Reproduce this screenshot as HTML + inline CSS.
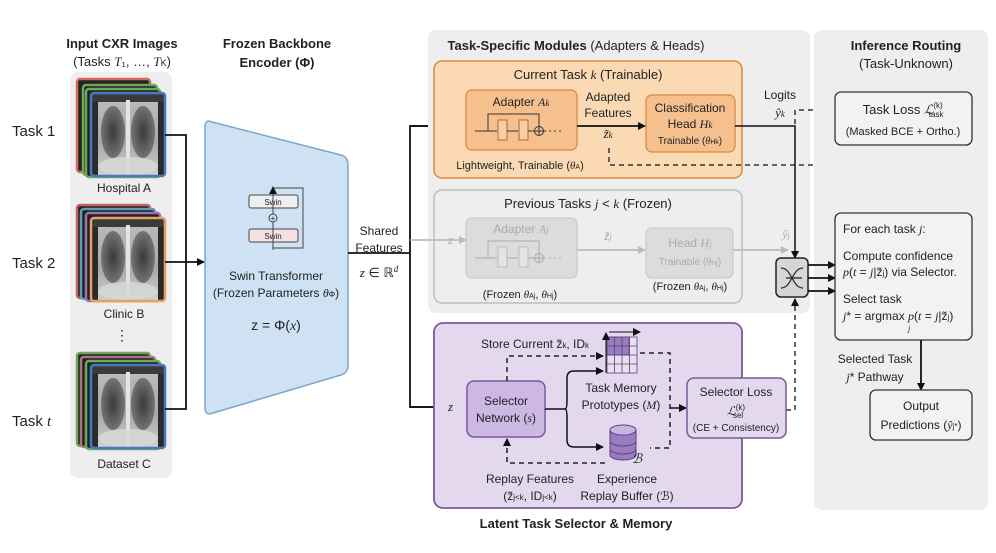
<!DOCTYPE html>
<html><head><meta charset="utf-8"><style>
html,body{margin:0;padding:0;background:#fff}
svg{display:block}
text{font-family:"Liberation Sans",sans-serif;fill:#222}
.s{font-family:"Liberation Serif",serif;font-style:italic}
.b{font-weight:bold}
</style></head><body>
<svg width="996" height="553" viewBox="0 0 996 553" xmlns="http://www.w3.org/2000/svg">
<defs>
<marker id="ah" markerWidth="8" markerHeight="8" refX="7" refY="4" orient="auto" markerUnits="userSpaceOnUse"><path d="M0,0 L8,4 L0,8 z" fill="#111"/></marker>
<marker id="ag" markerWidth="8" markerHeight="8" refX="7" refY="4" orient="auto" markerUnits="userSpaceOnUse"><path d="M0,0 L8,4 L0,8 z" fill="#bbb"/></marker>
<linearGradient id="body" x1="0" y1="0" x2="0" y2="1"><stop offset="0" stop-color="#bdbdbd"/><stop offset="0.6" stop-color="#a8a8a8"/><stop offset="1" stop-color="#d0d0d0"/></linearGradient>
<radialGradient id="lung" cx="50%" cy="50%" r="55%"><stop offset="0" stop-color="#3a3a3a"/><stop offset="1" stop-color="#7a7a7a"/></radialGradient>
<g id="xr">
<rect x="0" y="0" width="72" height="82" fill="url(#body)"/>
<rect x="0" y="0" width="6" height="82" fill="#2a2a2a"/>
<rect x="66" y="0" width="6" height="82" fill="#2a2a2a"/>
<rect x="0" y="0" width="72" height="8" fill="#3a3a3a"/>
<ellipse cx="21" cy="38" rx="12" ry="26" fill="url(#lung)"/>
<ellipse cx="51" cy="38" rx="12" ry="26" fill="url(#lung)"/>
<rect x="34" y="6" width="4" height="74" fill="#e4e4e4"/>
<ellipse cx="36" cy="72" rx="30" ry="9" fill="#d8d8d8" opacity="0.8"/>
</g>
</defs>

<rect x="70" y="72" width="102" height="406" rx="8" fill="#eeeeee"/>
<text x="122" y="48" text-anchor="middle" font-size="13" class="b">Input CXR Images</text>
<text x="122" y="66" text-anchor="middle" font-size="13">(Tasks <tspan class="s">T</tspan>₁, …, <tspan class="s">T</tspan><tspan font-size="9">K</tspan>)</text>
<text x="12" y="136" font-size="15">Task 1</text>
<text x="12" y="268" font-size="15">Task 2</text>
<text x="12" y="426" font-size="15">Task <tspan class="s">t</tspan></text>

<rect x="77" y="79" width="73" height="93" rx="3" fill="#222" stroke="#d76a5a" stroke-width="2.5"/>
<rect x="83" y="85" width="74" height="90" rx="3" fill="#222" stroke="#6aaa5a" stroke-width="2.5"/>
<rect x="86" y="89" width="74" height="88" rx="3" fill="#222" stroke="#6aaa5a" stroke-width="2.5"/>
<use href="#xr" x="92" y="94"/>
<rect x="91" y="93" width="74" height="83" rx="3" fill="none" stroke="#4a78c0" stroke-width="2.5"/>
<text x="124" y="192" text-anchor="middle" font-size="12">Hospital A</text>
<rect x="77" y="205" width="73" height="93" rx="3" fill="#222" stroke="#c76060" stroke-width="2.5"/>
<rect x="81" y="209" width="74" height="90" rx="3" fill="#222" stroke="#5aa0b0" stroke-width="2.5"/>
<rect x="86" y="213" width="74" height="88" rx="3" fill="#222" stroke="#9a70b8" stroke-width="2.5"/>
<use href="#xr" x="92" y="219"/>
<rect x="91" y="218" width="74" height="83" rx="3" fill="none" stroke="#e8a060" stroke-width="2.5"/>
<text x="124" y="318" text-anchor="middle" font-size="12">Clinic B</text>
<text x="122" y="340" text-anchor="middle" font-size="14">⋮</text>
<rect x="77" y="353" width="73" height="93" rx="3" fill="#222" stroke="#6aaa5a" stroke-width="2.5"/>
<rect x="81" y="357" width="74" height="90" rx="3" fill="#222" stroke="#b07080" stroke-width="2.5"/>
<rect x="86" y="361" width="74" height="88" rx="3" fill="#222" stroke="#6aaa5a" stroke-width="2.5"/>
<use href="#xr" x="92" y="366"/>
<rect x="91" y="365" width="74" height="83" rx="3" fill="none" stroke="#4a78c0" stroke-width="2.5"/>
<text x="124" y="468" text-anchor="middle" font-size="12">Dataset C</text>

<path d="M165,135 H186 V409 H165" fill="none" stroke="#111" stroke-width="1.8"/>
<line x1="165" y1="262" x2="204" y2="262" stroke="#111" stroke-width="1.8" marker-end="url(#ah)"/>

<text x="277" y="48" text-anchor="middle" font-size="13" class="b">Frozen Backbone</text>
<text x="277" y="67" text-anchor="middle" font-size="13" class="b">Encoder (Φ)</text>
<path d="M212,122 Q205,119 205,127 V408 Q205,416 213,413 L341,375 Q348,373 348,365 V165 Q348,157 341,155 Z" fill="#cfe2f3" stroke="#7aa6cf" stroke-width="1.5"/>
<rect x="249" y="195" width="49" height="13" rx="2" fill="#eeeeee" stroke="#444" stroke-width="1"/>
<text x="273" y="205" text-anchor="middle" font-size="8" fill="#444">Swin</text>
<rect x="249" y="229" width="49" height="13" rx="2" fill="#f6e0e4" stroke="#444" stroke-width="1"/>
<text x="273" y="239" text-anchor="middle" font-size="8" fill="#444">Swin</text>
<line x1="273" y1="250" x2="273" y2="187" stroke="#444" stroke-width="1" marker-end="url(#ah)"/>
<path d="M273,248 H303 V188 H273" fill="none" stroke="#444" stroke-width="1"/>
<circle cx="273" cy="218" r="4" fill="#cfe2f3" stroke="#444" stroke-width="1"/>
<text x="273" y="221" text-anchor="middle" font-size="8" fill="#444">+</text>
<text x="276" y="280" text-anchor="middle" font-size="12">Swin Transformer</text>
<text x="276" y="297" text-anchor="middle" font-size="12">(Frozen Parameters <tspan class="s">θ</tspan><tspan font-size="8">Φ</tspan>)</text>
<text x="276" y="330" text-anchor="middle" font-size="14" font-family="Liberation Serif">z = Φ(<tspan class="s">x</tspan>)</text>

<text x="379" y="235" text-anchor="middle" font-size="12">Shared</text>
<text x="379" y="252" text-anchor="middle" font-size="12">Features</text>
<text x="379" y="277" text-anchor="middle" font-size="13" font-family="Liberation Serif"><tspan class="s">z</tspan> ∈ ℝ<tspan font-size="9" dy="-5" class="s">d</tspan></text>
<line x1="348" y1="253" x2="410" y2="253" stroke="#111" stroke-width="1.8"/>
<path d="M466,126 H410 V407 H466" fill="none" stroke="#111" stroke-width="1.8"/>
<line x1="410" y1="126" x2="466" y2="126" stroke="#111" stroke-width="1.8" marker-end="url(#ah)"/>
<line x1="410" y1="407" x2="467" y2="407" stroke="#111" stroke-width="1.8" marker-end="url(#ah)"/>

<rect x="428" y="30" width="382" height="283" rx="8" fill="#eeeeee"/>
<text x="576" y="50" text-anchor="middle" font-size="13"><tspan class="b">Task-Specific Modules</tspan> (Adapters &amp; Heads)</text>
<rect x="434" y="61" width="308" height="117" rx="8" fill="#fbd9b5" stroke="#d9893a" stroke-width="1.5"/>
<text x="588" y="79" text-anchor="middle" font-size="13">Current Task <tspan class="s">k</tspan> (Trainable)</text>
<rect x="466" y="90" width="111" height="60" rx="6" fill="#f6c08e" stroke="#d9893a" stroke-width="1.2"/>
<text x="521" y="106" text-anchor="middle" font-size="12">Adapter <tspan class="s">A</tspan><tspan class="s" font-size="9">k</tspan></text>
<rect x="498" y="120" width="9" height="20" fill="#f8cfa5" stroke="#a8683a"/>
<rect x="519" y="120" width="9" height="20" fill="#f8cfa5" stroke="#a8683a"/>
<path d="M475,131 H497 M507,131 H518 M528,131 H535" stroke="#333" stroke-width="1" fill="none"/>
<path d="M488,131 V114 H539 V126" stroke="#333" stroke-width="1" fill="none"/>
<circle cx="539" cy="131" r="4.5" fill="none" stroke="#333"/><path d="M534.5,131 H543.5 M539,126.5 V135.5" stroke="#333"/>
<line x1="544" y1="131" x2="562" y2="131" stroke="#333" stroke-dasharray="2,3"/>
<text x="520" y="169" text-anchor="middle" font-size="11">Lightweight, Trainable (<tspan class="s">θ</tspan><tspan font-size="7">A</tspan>)</text>
<text x="608" y="101" text-anchor="middle" font-size="12">Adapted</text>
<text x="608" y="117" text-anchor="middle" font-size="12">Features</text>
<text x="608" y="138" text-anchor="middle" font-size="13" class="s">z̃<tspan font-size="9">k</tspan></text>
<line x1="577" y1="126" x2="645" y2="126" stroke="#111" stroke-width="1.8" marker-end="url(#ah)"/>
<rect x="646" y="95" width="89" height="57" rx="6" fill="#f6c08e" stroke="#d9893a" stroke-width="1.2"/>
<text x="690" y="112" text-anchor="middle" font-size="12">Classification</text>
<text x="690" y="128" text-anchor="middle" font-size="12">Head <tspan class="s">H</tspan><tspan class="s" font-size="9">k</tspan></text>
<text x="690" y="144" text-anchor="middle" font-size="10">Trainable (<tspan class="s">θ</tspan><tspan font-size="7">Hk</tspan>)</text>
<path d="M609,148 V165 H907 V152" fill="none" stroke="#333" stroke-width="1.5" stroke-dasharray="5,4"/>
<path d="M903,155 L907,147 L911,155 z" fill="#111"/>
<text x="780" y="99" text-anchor="middle" font-size="12">Logits</text>
<text x="780" y="117" text-anchor="middle" font-size="13" class="s">ŷ<tspan font-size="9">k</tspan></text>
<path d="M735,126 H795 V258" fill="none" stroke="#111" stroke-width="1.5" marker-end="url(#ah)"/>
<path d="M795,124 V110 H835" fill="none" stroke="#333" stroke-width="1.5" stroke-dasharray="5,4" marker-end="url(#ah)"/>

<rect x="434" y="190" width="308" height="113" rx="8" fill="#eeeeee" stroke="#bdbdbd" stroke-width="1.5"/>
<text x="588" y="208" text-anchor="middle" font-size="13">Previous Tasks <tspan class="s">j</tspan> &lt; <tspan class="s">k</tspan> (Frozen)</text>
<rect x="466" y="218" width="111" height="60" rx="6" fill="#dcdcdc" stroke="#c4c4c4"/>
<text x="521" y="233" text-anchor="middle" font-size="12" style="fill:#aaa">Adapter <tspan class="s">A</tspan><tspan class="s" font-size="9">j</tspan></text>
<rect x="498" y="247" width="9" height="20" fill="#e4e4e4" stroke="#bbb"/>
<rect x="519" y="247" width="9" height="20" fill="#e4e4e4" stroke="#bbb"/>
<path d="M475,258 H497 M507,258 H518 M528,258 H535 M488,258 V241 H539 V253" stroke="#aaa" fill="none"/>
<circle cx="539" cy="258" r="4.5" fill="none" stroke="#aaa"/><path d="M534.5,258 H543.5 M539,253.5 V262.5" stroke="#aaa"/>
<line x1="544" y1="258" x2="562" y2="258" stroke="#aaa" stroke-dasharray="2,3"/>
<text x="448" y="244" font-size="13" class="s" style="fill:#aaa">z</text>
<line x1="410" y1="240" x2="466" y2="240" stroke="#bbb" stroke-width="1.8" marker-end="url(#ag)"/>
<line x1="577" y1="250" x2="645" y2="250" stroke="#bbb" stroke-width="1.8" marker-end="url(#ag)"/>
<text x="608" y="240" text-anchor="middle" font-size="13" class="s" style="fill:#aaa">z̃<tspan font-size="9">j</tspan></text>
<rect x="646" y="228" width="87" height="50" rx="6" fill="#dcdcdc" stroke="#c4c4c4"/>
<text x="690" y="247" text-anchor="middle" font-size="12" style="fill:#aaa">Head <tspan class="s">H</tspan><tspan class="s" font-size="9">j</tspan></text>
<text x="690" y="265" text-anchor="middle" font-size="10" style="fill:#aaa">Trainable (<tspan class="s">θ</tspan><tspan font-size="7">Hj</tspan>)</text>
<text x="520" y="298" text-anchor="middle" font-size="11">(Frozen <tspan class="s">θ</tspan><tspan font-size="7">Aj</tspan>, <tspan class="s">θ</tspan><tspan font-size="7">Hj</tspan>)</text>
<text x="690" y="290" text-anchor="middle" font-size="11">(Frozen <tspan class="s">θ</tspan><tspan font-size="7">Aj</tspan>, <tspan class="s">θ</tspan><tspan font-size="7">Hj</tspan>)</text>
<text x="786" y="238" text-anchor="middle" font-size="12" class="s" style="fill:#aaa">ŷ<tspan font-size="8">j</tspan></text>
<line x1="733" y1="250" x2="788" y2="250" stroke="#bbb" stroke-width="1.8" marker-end="url(#ag)"/>

<rect x="814" y="30" width="174" height="480" rx="8" fill="#eeeeee"/>
<text x="906" y="50" text-anchor="middle" font-size="13" class="b">Inference Routing</text>
<text x="906" y="68" text-anchor="middle" font-size="13">(Task-Unknown)</text>
<rect x="835" y="92" width="137" height="53" rx="6" fill="#f2f2f2" stroke="#333" stroke-width="1.3"/>
<text x="903" y="114" text-anchor="middle" font-size="13">Task Loss <tspan class="s">ℒ</tspan><tspan font-size="8" dy="-6">(k)</tspan><tspan font-size="8" dx="-14" dy="9">task</tspan></text>
<text x="903" y="135" text-anchor="middle" font-size="11">(Masked BCE + Ortho.)</text>

<rect x="776" y="258" width="32" height="39" rx="5" fill="#d6d6d6" stroke="#222" stroke-width="1.5"/>
<path d="M781,268 C792,268 792,288 803,288 M781,288 C792,288 792,268 803,268 M786,278 H802" stroke="#222" fill="none" stroke-width="1.2"/>
<line x1="808" y1="265" x2="835" y2="265" stroke="#111" stroke-width="1.8" marker-end="url(#ah)"/>
<line x1="808" y1="278" x2="835" y2="278" stroke="#111" stroke-width="1.8" marker-end="url(#ah)"/>
<line x1="808" y1="291" x2="835" y2="291" stroke="#111" stroke-width="1.8" marker-end="url(#ah)"/>
<path d="M786,410 H795 V299" fill="none" stroke="#333" stroke-width="1.5" stroke-dasharray="5,4" marker-end="url(#ah)"/>

<rect x="835" y="213" width="137" height="127" rx="6" fill="#f2f2f2" stroke="#333" stroke-width="1.3"/>
<text x="843" y="233" font-size="12">For each task <tspan class="s">j</tspan>:</text>
<text x="843" y="260" font-size="12">Compute confidence</text>
<text x="843" y="276" font-size="12"><tspan class="s">p</tspan>(<tspan class="s">t</tspan> = <tspan class="s">j</tspan>|z̃<tspan font-size="8">j</tspan>) via Selector.</text>
<text x="843" y="303" font-size="12">Select task</text>
<text x="843" y="320" font-size="12"><tspan class="s">j</tspan>* = argmax <tspan class="s">p</tspan>(<tspan class="s">t</tspan> = <tspan class="s">j</tspan>|z̃<tspan font-size="8">j</tspan>)</text>
<text x="908" y="331" font-size="8" class="s">j</text>
<text x="875" y="363" text-anchor="middle" font-size="12">Selected Task</text>
<text x="875" y="381" text-anchor="middle" font-size="12"><tspan class="s">j</tspan>* Pathway</text>
<line x1="921" y1="340" x2="921" y2="390" stroke="#111" stroke-width="1.8" marker-end="url(#ah)"/>
<rect x="870" y="390" width="102" height="50" rx="6" fill="#f2f2f2" stroke="#333" stroke-width="1.3"/>
<text x="921" y="410" text-anchor="middle" font-size="12">Output</text>
<text x="921" y="429" text-anchor="middle" font-size="12">Predictions (<tspan class="s">ŷ</tspan><tspan font-size="8">j*</tspan>)</text>

<rect x="434" y="323" width="308" height="185" rx="9" fill="#e4d8ef" stroke="#7a5a9c" stroke-width="1.8"/>
<text x="576" y="528" text-anchor="middle" font-size="13" class="b">Latent Task Selector &amp; Memory</text>
<text x="448" y="411" font-size="13" class="s">z</text>
<rect x="467" y="381" width="78" height="56" rx="7" fill="#cdb8e3" stroke="#7a5a9c" stroke-width="1.5"/>
<text x="506" y="405" text-anchor="middle" font-size="12">Selector</text>
<text x="506" y="422" text-anchor="middle" font-size="12">Network (<tspan class="s">s</tspan>)</text>
<text x="535" y="348" text-anchor="middle" font-size="12">Store Current z̃<tspan font-size="8">k</tspan>, ID<tspan font-size="8">k</tspan></text>
<path d="M507,381 V356 H603" fill="none" stroke="#222" stroke-width="1.5" stroke-dasharray="5,4" marker-end="url(#ah)"/>
<path d="M545,409 H565 Q567,409 567,400 V378 Q567,371 574,371 H603" fill="none" stroke="#111" stroke-width="1.5" marker-end="url(#ah)"/>
<path d="M565,409 Q567,409 567,418 V440 Q567,447 574,447 H603" fill="none" stroke="#111" stroke-width="1.5" marker-end="url(#ah)"/>
<g stroke="#5a3f7a" stroke-width="0.8">
<rect x="607" y="337" width="30" height="36" fill="#e8e0f0"/>
<rect x="607" y="337" width="22" height="18" fill="#9a7cc0"/>
<path d="M614.5,337 V373 M622,337 V373 M629.5,337 V373 M607,346 H637 M607,355 H637 M607,364 H637" fill="none"/>
</g>
<line x1="606" y1="373" x2="606" y2="333" stroke="#111" stroke-width="1" marker-end="url(#ah)"/>
<line x1="609" y1="332" x2="640" y2="332" stroke="#111" stroke-width="1" marker-end="url(#ah)"/>
<text x="621" y="392" text-anchor="middle" font-size="12">Task Memory</text>
<text x="621" y="409" text-anchor="middle" font-size="12">Prototypes (<tspan class="s">M</tspan>)</text>
<path d="M610,430 V455 A13,5 0 0 0 636,455 V430" fill="#9a7cc0" stroke="#5a3f7a"/>
<ellipse cx="623" cy="430" rx="13" ry="5" fill="#c9b6e0" stroke="#5a3f7a"/>
<path d="M610,441 A13,5 0 0 0 636,441 M610,449 A13,5 0 0 0 636,449" fill="none" stroke="#5a3f7a"/>
<text x="637" y="463" text-anchor="middle" font-size="13" class="s">ℬ</text>
<text x="627" y="483" text-anchor="middle" font-size="12">Experience</text>
<text x="627" y="500" text-anchor="middle" font-size="12">Replay Buffer (ℬ)</text>
<path d="M640,353 H670 V448 H650" fill="none" stroke="#222" stroke-width="1.5" stroke-dasharray="5,4"/>
<line x1="670" y1="408" x2="686" y2="408" stroke="#111" stroke-width="1.5" marker-end="url(#ah)"/>
<path d="M605,463 H507 V439" fill="none" stroke="#222" stroke-width="1.5" stroke-dasharray="5,4" marker-end="url(#ah)"/>
<text x="530" y="483" text-anchor="middle" font-size="12">Replay Features</text>
<text x="530" y="500" text-anchor="middle" font-size="12">(z̃<tspan font-size="8">j&lt;k</tspan>, ID<tspan font-size="8">j&lt;k</tspan>)</text>
<rect x="687" y="378" width="99" height="60" rx="7" fill="#e4d8ef" stroke="#7a5a9c" stroke-width="1.5"/>
<text x="736" y="396" text-anchor="middle" font-size="12">Selector Loss</text>
<text x="736" y="415" text-anchor="middle" font-size="12"><tspan class="s">ℒ</tspan><tspan font-size="8" dy="-5">(k)</tspan><tspan font-size="8" dx="-12" dy="8">sel</tspan></text>
<text x="736" y="431" text-anchor="middle" font-size="10">(CE + Consistency)</text>
</svg>
</body></html>
